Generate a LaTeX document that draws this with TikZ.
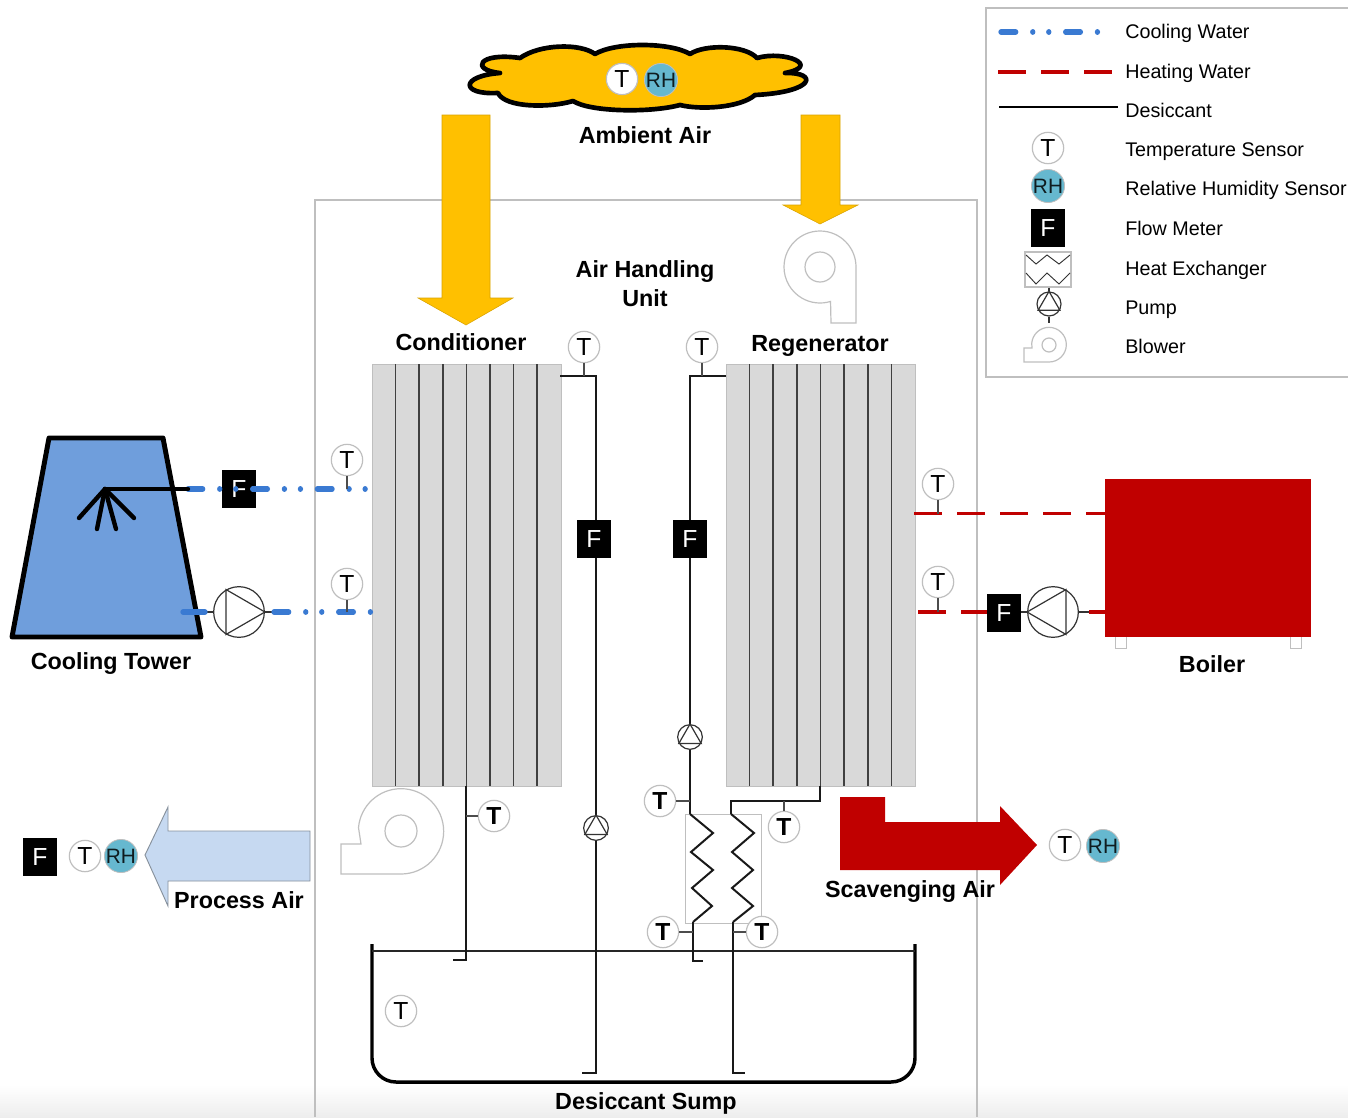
\documentclass[tikz,border=0pt]{standalone}
\usepackage{fontspec}
\setmainfont{Liberation Sans}
\definecolor{linegray}{HTML}{BFBFBF}
\definecolor{tubegray}{HTML}{D9D9D9}
\definecolor{cool}{HTML}{3A7AD2}
\definecolor{towerblue}{HTML}{6F9EDC}
\definecolor{heat}{HTML}{C00000}
\definecolor{amber}{HTML}{FFC000}
\definecolor{rhblue}{HTML}{66B8CF}
\definecolor{procblue}{HTML}{C6D9F1}
\tikzset{
 x=0.75pt,y=-0.75pt,
 tsens/.style={circle,draw=linegray,fill=white,line width=0.9pt,minimum size=23.5pt,inner sep=0pt,font=\fontsize{18.5pt}{20pt}\selectfont},
 tbold/.style={tsens,font=\fontsize{18.5pt}{20pt}\selectfont\bfseries},
 rhsens/.style={circle,draw=linegray,fill=rhblue,line width=0.6pt,minimum size=23.5pt,inner sep=0pt,text=black!85!rhblue,font=\fontsize{15.6pt}{17pt}\selectfont},
 fmeter/.style={rectangle,fill=black,text=white,minimum width=25.5pt,minimum height=28.5pt,inner sep=0pt,font=\fontsize{18.5pt}{20pt}\selectfont},
 pumpbig/.style={circle,draw=black!80,fill=white,line width=0.9pt,minimum size=38pt,inner sep=0pt},
 pumpsmall/.style={circle,draw=black!80,fill=white,line width=0.9pt,minimum size=18.5pt,inner sep=0pt},
 tubes/.style={rectangle,draw=linegray,fill=tubegray,line width=0.8pt,inner sep=0pt,anchor=north west,minimum width=141.75pt,minimum height=316.5pt},
 divider/.style={draw=black!75,line width=1.1pt},
 label/.style={font=\fontsize{17.5pt}{21.6pt}\selectfont\bfseries,align=center},
 blabel/.style={label,anchor=base,inner sep=0pt},
 legtext/.style={anchor=base west,inner sep=0pt,font=\fontsize{14.8pt}{17pt}\selectfont},
 pipe/.style={draw=black!90,line width=1.9pt},
 stem/.style={draw=black!70,line width=1pt},
 thin/.style={draw=black!80,line width=0.9pt},
 coolw/.style={draw=cool,line width=4pt,line cap=round,dash pattern=on 11pt off 12.8pt on 0.01pt off 12pt on 0.01pt off 12.7pt},
 heatw/.style={draw=heat,line width=2.8pt,dash pattern=on 21pt off 11.25pt},
 graybox/.style={draw=linegray,line width=1.1pt},
 airarrow/.style={fill=amber,draw=amber!85!black,line width=0.4pt},
}
\begin{document}
\begin{tikzpicture}
\useasboundingbox (0,0) rectangle (1348,1117);
\fill[white] (0,0) rectangle (1348,1117);
\shade[top color=white,bottom color=black!7] (0,1085) rectangle (1348,1117);

% Air handling unit and legend frames
\draw[graybox] (315,1117) -- (315,200) -- (977,200) -- (977,1117);
\draw[graybox] (1348,8) -- (986,8) -- (986,377) -- (1348,377);

% Ambient air cloud
\draw[fill=amber,draw=black,line width=3.5pt,line join=round]
 (520,58) .. controls (540,44) and (580,43) .. (595,54)
 .. controls (615,42) and (670,42) .. (690,54)
 .. controls (705,44) and (745,45) .. (757,58)
 .. controls (785,50) and (822,66) .. (785,73)
 .. controls (818,72) and (816,92) .. (755,95)
 .. controls (740,108) and (700,110) .. (680,105)
 .. controls (650,113) and (590,112) .. (573,101)
 .. controls (550,108) and (505,108) .. (498,93)
 .. controls (460,95) and (460,76) .. (500,73)
 .. controls (470,70) and (478,52) .. (520,58) -- cycle;
\node[tsens,draw=linegray] (tamb) at (622,79) {T};
\node[rhsens] (rhamb) at (661,80) {RH};

% Yellow air arrows
\draw[airarrow] (442,115) -- (490,115) -- (490,298) -- (513,298) -- (466,325) -- (418,298) -- (442,298) -- cycle;
\draw[airarrow] (801,115) -- (840,115) -- (840,205) -- (858,205) -- (820,224) -- (783,205) -- (801,205) -- cycle;

% Blowers
\draw[graybox,fill=white,line width=0.9pt] (856,267) arc[start angle=0,end angle=287,radius=27pt] -- (831,323) -- (856,323) -- cycle;
\node[circle,draw=linegray,line width=0.9pt,minimum size=22.5pt,inner sep=0pt] (bcirc1) at (820,267) {};
\draw[graybox,fill=white,line width=0.9pt] (401,874) arc[start angle=-90,end angle=175,radius=32pt] -- (361,844) -- (341,844) -- (341,874) -- cycle;
\node[circle,draw=linegray,line width=0.9pt,minimum size=24pt,inner sep=0pt] (bcirc2) at (401,831) {};

% Tube banks
\node[tubes] (cond) at (372,364) {};
\node[tubes] (regen) at (726,364) {};
\foreach \xx in {395.5,419,443,466.5,490,513.5,537} \draw[divider] (\xx,364) -- (\xx,786);
\foreach \xx in {749.5,773,797,820.5,844,868,891.5} \draw[divider] (\xx,364) -- (\xx,786);

% Sump
\coordinate (sumpL) at (372,951);
\coordinate (sumpR) at (915,951);
\draw[draw=black,line width=2.6pt] (372,944) -- (372,1058) arc[start angle=180,end angle=270,radius=18pt] -- (891,1082) arc[start angle=270,end angle=360,radius=18pt] -- (915,944);
\draw[pipe,line width=1.4pt,draw=black!85] (sumpL) -- (sumpR);

% Heat exchanger
\node[rectangle,draw=linegray,line width=1pt,minimum width=57pt,minimum height=81.75pt,inner sep=0pt,anchor=north west] (hx) at (685,814) {};
\coordinate (hxa) at (690,814);
\coordinate (hxb) at (693,922);
\coordinate (hxc) at (731,814);
\coordinate (hxd) at (733,922);
\draw[pipe,line width=1.5pt] (hxa) -- (713,833) -- (691,852) -- (713,870) -- (692,888) -- (712,906) -- (hxb);
\draw[pipe,line width=1.5pt] (hxc) -- (754,833) -- (732,852) -- (753,870) -- (732,888) -- (753,906) -- (hxd);

% Flow meters and pumps on the desiccant lines
\node[fmeter] (fcond) at (594,539) {F};
\node[fmeter] (fregen) at (690,539) {F};
\node[pumpsmall] (pcond) at (596,828) {};
\node[pumpsmall] (pregen) at (690,737) {};

% Desiccant pipes
\coordinate (c1) at (560,376);
\coordinate (c2) at (596,376);
\coordinate (c3) at (596,1073);
\coordinate (c4) at (582,1073);
\draw[pipe] (c1) -- (c2) -- (fcond.north -| c2);
\draw[pipe] (fcond.south -| c2) -- (pcond.north);
\draw[pipe] (pcond.south) -- (c3) -- (c4);
\coordinate (r1) at (726,376);
\coordinate (r2) at (690,376);
\coordinate (r3) at (690,801);
\draw[pipe] (r1) -- (r2) -- (fregen.north);
\draw[pipe] (fregen.south) -- (pregen.north);
\draw[pipe] (pregen.south) -- (r3) -- (hxa);
\coordinate (d1) at (693,961);
\coordinate (d2) at (703,961);
\draw[pipe] (hxb) -- (d1) -- (d2);
\coordinate (e1) at (731,801);
\coordinate (e2) at (820,801);
\coordinate (e3) at (820,786);
\draw[pipe] (hxc) -- (e1) -- (e2) -- (e3);
\coordinate (g1) at (733,1073);
\coordinate (g2) at (745,1073);
\draw[pipe] (hxd) -- (g1) -- (g2);
\coordinate (h1) at (466,786);
\coordinate (h2) at (466,960);
\coordinate (h3) at (453,960);
\draw[pipe] (h1) -- (h2) -- (h3);
\coordinate (h4) at (466,816);
\coordinate (e4) at (784,801);
\coordinate (i1) at (693,932);
\coordinate (i2) at (733,932);
\coordinate (j1) at (584,376);
\coordinate (j2) at (702,376);

% Pump triangles
\draw[thin] (pcond.90) -- (pcond.210) -- (pcond.330) -- cycle;
\draw[thin] (pregen.90) -- (pregen.210) -- (pregen.330) -- cycle;

% Temperature sensors in the unit
\node[tsens] (t1) at (584,347) {T};
\node[tsens] (t2) at (702,347) {T};
\node[tbold] (t3) at (494,816) {T};
\node[tbold] (t4) at (660,801) {T};
\node[tbold] (t5) at (784,827) {T};
\node[tbold] (t6) at (663,932) {T};
\node[tbold] (t7) at (762,932) {T};
\node[tsens] (t8) at (401,1011) {T};
\draw[stem] (t1) -- (j1);
\draw[stem] (t2) -- (j2);
\draw[stem] (t3) -- (h4);
\draw[stem] (t4) -- (r3);
\draw[stem] (t5) -- (e4);
\draw[stem] (t6) -- (i1);
\draw[stem] (t7) -- (i2);

% Cooling tower
\draw[fill=towerblue,draw=black,line width=3.7pt,line join=round] (49,438) -- (163,438) -- (201,637) -- (12,637) -- cycle;
\coordinate (sp) at (105,489);
\coordinate (sq) at (188,489);
\node[fmeter] (fcool) at (239,489) {F};
\node[pumpbig] (pcool) at (239,612) {};
\draw[thin] (pcool.0) -- (pcool.120) -- (pcool.240) -- cycle;
\coordinate (cw1) at (372,489);
\coordinate (cw2) at (347,489);
\coordinate (cw3) at (183,612);
\coordinate (cw4) at (205,612);
\coordinate (cw5) at (274,612);
\coordinate (cw6) at (372,612);
\coordinate (cw7) at (347,612);
\draw[thin] (cw4) -- (pcool.west);
\draw[thin] (pcool.east) -- (cw5);
\draw[coolw] (sq) -- (cw1);
\draw[draw=cool,line width=4pt,line cap=round] (cw3) -- (cw4);
\draw[coolw] (cw5) -- (cw6);
\draw[draw=black,line width=3.3pt,line cap=round] (sq) -- (sp);
\foreach \tipx/\tipy in {79/518,97/529,116/529,134/518} \draw[draw=black,line width=3.3pt,line cap=round] (sp) -- (\tipx,\tipy);
\node[tsens] (t9) at (347,460) {T};
\node[tsens] (t10) at (347,584) {T};
\draw[stem] (t9) -- (cw2);
\draw[stem] (t10) -- (cw7);

% Boiler
\node[rectangle,draw=linegray,line width=0.7pt,fill=white,minimum width=8.25pt,minimum height=12pt,inner sep=0pt] (foot1) at (1120.5,640) {};
\node[rectangle,draw=linegray,line width=0.7pt,fill=white,minimum width=8.25pt,minimum height=12pt,inner sep=0pt] (foot2) at (1295.5,640) {};
\node[rectangle,fill=heat,minimum width=154.5pt,minimum height=118.5pt,inner sep=0pt,anchor=north west] (boiler) at (1105,479) {};
\coordinate (hw1) at (914,513.5);
\coordinate (hw2) at (1105,513.5);
\coordinate (hw3) at (938,513.5);
\coordinate (hw4) at (918,612);
\coordinate (hw5) at (938,612);
\coordinate (hw6) at (1089,612);
\coordinate (hw7) at (1105,612);
\node[fmeter] (fheat) at (1004,613) {F};
\node[pumpbig] (pheat) at (1053,612) {};
\draw[thin] (pheat.180) -- (pheat.60) -- (pheat.300) -- cycle;
\draw[heatw] (hw1) -- (hw2);
\draw[heatw] (hw4) -- (fheat.west |- hw4);
\draw[thin] (fheat.east |- pheat) -- (pheat.west);
\draw[thin] (pheat.east) -- (hw6);
\draw[draw=heat,line width=2.8pt] (hw6) -- (hw7);
\node[tsens] (t11) at (938,484) {T};
\node[tsens] (t12) at (938,582) {T};
\draw[stem] (t11) -- (hw3);
\draw[stem] (t12) -- (hw5);

% Process and scavenging air
\draw[fill=procblue,draw=black!30!procblue!70!gray,line width=0.7pt] (310,831) -- (168,831) -- (168,807) -- (145,855) -- (168,906) -- (168,881) -- (310,881) -- cycle;
\node[fmeter] (fproc) at (40,857) {F};
\node[tsens] (tproc) at (85,856) {T};
\node[rhsens] (rhproc) at (121,856) {RH};
\fill[heat] (840,797) -- (885,797) -- (885,822) -- (1000,822) -- (1000,806) -- (1037,845) -- (1000,885) -- (1000,870) -- (840,870) -- cycle;
\node[tsens] (tscav) at (1065,845) {T};
\node[rhsens] (rhscav) at (1103,846) {RH};

% Labels
\node[blabel] (lamb) at (645,143) {Ambient Air};
\node[label] (lahu) at (645,283.5) {Air Handling\\Unit};
\node[blabel] (lcond) at (461,350) {Conditioner};
\node[blabel] (lregen) at (820,351) {Regenerator};
\node[blabel] (ltower) at (111,669) {Cooling Tower};
\node[blabel] (lboil) at (1212,672) {Boiler};
\node[blabel] (lproc) at (239,908) {Process Air};
\node[blabel] (lscav) at (910,897) {Scavenging Air};
\node[blabel] (lsump) at (646,1109) {Desiccant Sump};

% Legend
\coordinate (la1) at (1001,32);
\coordinate (la2) at (1111,32);
\coordinate (lb1) at (998,72);
\coordinate (lb2) at (1113,72);
\coordinate (lc1) at (999,107);
\coordinate (lc2) at (1118,107);
\draw[coolw] (la1) -- (la2);
\draw[heatw] (lb1) -- (lb2);
\draw[draw=black,line width=1.2pt] (lc1) -- (lc2);
\node[tsens] (lt) at (1048,148) {T};
\node[rhsens] (lrh) at (1048,186) {RH};
\node[fmeter] (lf) at (1048,228) {F};
\node[rectangle,draw=linegray,line width=0.9pt,minimum width=34.5pt,minimum height=26.25pt,inner sep=0pt] (lhx) at (1048,269.5) {};
\draw[thin,line width=0.7pt] (1026,255) -- (1036,264) -- (1047,255) -- (1059,264) -- (1070,255);
\draw[thin,line width=0.7pt] (1026,273) -- (1036,284) -- (1047,273) -- (1059,284) -- (1070,273);
\node[pumpsmall,minimum size=18pt] (lp) at (1049,304) {};
\draw[thin] (lp.90) -- (lp.210) -- (lp.330) -- cycle;
\draw[thin] (lhx.south -| lp) -- (lp.north);
\coordinate (lpe) at (1049,323);
\draw[thin] (lp.south) -- (lpe);
\draw[graybox,line width=0.9pt,fill=white] (1049,362) arc[start angle=-90,end angle=175,radius=13pt] -- (1032,348) -- (1024,348) -- (1024,362) -- cycle;
\node[circle,draw=linegray,line width=0.9pt,minimum size=10.5pt,inner sep=0pt] (lbc) at (1049,345) {};
\node[legtext] (lx1) at (1125,38) {Cooling Water};
\node[legtext] (lx2) at (1125,78) {Heating Water};
\node[legtext] (lx3) at (1125,117) {Desiccant};
\node[legtext] (lx4) at (1125,156) {Temperature Sensor};
\node[legtext] (lx5) at (1125,195) {Relative Humidity Sensor};
\node[legtext] (lx6) at (1125,235) {Flow Meter};
\node[legtext] (lx7) at (1125,275) {Heat Exchanger};
\node[legtext] (lx8) at (1125,314) {Pump};
\node[legtext] (lx9) at (1125,353) {Blower};
\end{tikzpicture}
\end{document}
